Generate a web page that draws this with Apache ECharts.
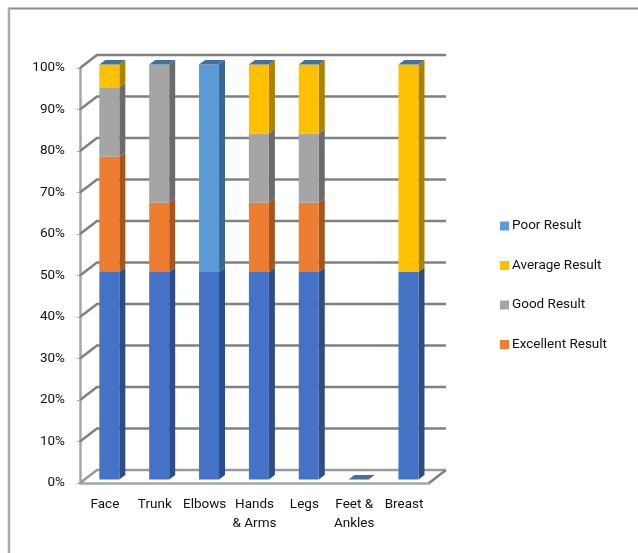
<!DOCTYPE html>
<html>
<head>
<meta charset="utf-8">
<style>html,body{margin:0;padding:0;background:#fff}#chart{width:638px;height:553px}</style>
<script src="https://cdn.jsdelivr.net/npm/echarts@6/dist/echarts.min.js"></script>
</head>
<body>
<div id="chart"></div>
<script>
// Outcome shares by treatment area, stacked to 100%.
const categories = ['Face', 'Trunk', 'Elbows', 'Hands\n& Arms', 'Legs', 'Feet &\nAnkles', 'Breast'];
const baseShare = [50, 50, 50, 50, 50, 0, 50];
const excellent = [27.8, 16.7, 0, 16.7, 16.7, 0, 0];
const good = [16.7, 33.3, 0, 16.7, 16.7, 0, 0];
const average = [5.5, 0, 0, 16.6, 16.6, 0, 50];
const poor = [0, 0, 50, 0, 0, 0, 0];
const yTicks = [0, 10, 20, 30, 40, 50, 60, 70, 80, 90, 100];

const FONT = 'Roboto, "Liberation Sans", Arial, sans-serif';
const FONT_SIZE = 13.5;
const TEXT = '#111111';
// Oblique projection used for the box walls and the bar prisms.
const WALL = { dx: 17, dy: -13 };
const BAR = { shiftX: 4.4, shiftY: -3.5, width: 20, dx: 6, dy: -4.5 };
const CAP = '#41719c';

const stackDefs = [
  { name: 'Base Share', values: baseShare, front: '#4472c4', side: '#2c4d85' },
  { name: 'Excellent Result', values: excellent, front: '#ed7d31', side: '#a5561f' },
  { name: 'Good Result', values: good, front: '#a5a5a5', side: '#6b6b6b' },
  { name: 'Average Result', values: average, front: '#ffc000', side: '#ab8100' },
  { name: 'Poor Result', values: poor, front: '#5b9bd5', side: '#3a668f' }
];

const running = categories.map(() => 0);

function prism(def, withCap) {
  return function (params, api) {
    const cx = api.coord([api.value(0), 0])[0] + BAR.shiftX;
    const yLow = api.coord([0, api.value(1)])[1] + BAR.shiftY;
    const yHigh = api.coord([0, api.value(2)])[1] + BAR.shiftY;
    const l = cx - BAR.width / 2, r = cx + BAR.width / 2;
    const children = [];
    if (yLow - yHigh > 0.01) {
      children.push({
        type: 'polygon',
        shape: { points: [[r, yHigh], [r + BAR.dx, yHigh + BAR.dy], [r + BAR.dx, yLow + BAR.dy], [r, yLow]] },
        style: { fill: def.side }
      });
      children.push({
        type: 'rect',
        shape: { x: l, y: yHigh, width: BAR.width, height: yLow - yHigh },
        style: { fill: def.front }
      });
    }
    if (withCap) {
      children.push({
        type: 'polygon',
        shape: { points: [[l, yHigh], [l + BAR.dx, yHigh + BAR.dy], [r + BAR.dx, yHigh + BAR.dy], [r, yHigh]] },
        style: { fill: CAP }
      });
    }
    return { type: 'group', children };
  };
}

const barSeries = stackDefs.map((def, s) => ({
  name: def.name,
  type: 'custom',
  coordinateSystem: 'cartesian2d',
  clip: false,
  z: 5 + s,
  itemStyle: { color: def.front },
  encode: { x: 0, y: [1, 2] },
  data: def.values.map((v, i) => {
    const start = running[i];
    running[i] += v;
    return [i, start, running[i]];
  }),
  renderItem: prism(def, s === stackDefs.length - 1)
}));

// Back wall rules, wall diagonals and the floor of the box.
const wallSeries = {
  type: 'custom',
  coordinateSystem: 'cartesian2d',
  clip: false,
  silent: true,
  z: 1,
  encode: { y: 0 },
  data: yTicks.map(t => [t]),
  renderItem: function (params, api) {
    const g = params.coordSys;
    const y = api.coord([0, api.value(0)])[1];
    const right = g.x + g.width;
    const isFloor = api.value(0) === 0;
    const stroke = isFloor ? '#9a9a9a' : '#808080';
    const children = [{
      type: 'polyline',
      shape: { points: [[g.x, y], [g.x + WALL.dx, y + WALL.dy], [right + WALL.dx, y + WALL.dy]] },
      style: { stroke, lineWidth: 2.5, fill: 'none' }
    }];
    if (isFloor) {
      children.push({
        type: 'line',
        shape: { x1: right, y1: y, x2: right + WALL.dx, y2: y + WALL.dy },
        style: { stroke: '#808080', lineWidth: 2.5 }
      });
    }
    return { type: 'group', children };
  }
};

const chart = echarts.init(document.getElementById('chart'), null, { renderer: 'canvas' });
chart.setOption({
  animation: false,
  backgroundColor: '#ffffff',
  graphic: [
    { type: 'line', z: 0, shape: { x1: 8, y1: 8.5, x2: 638, y2: 8.5 }, style: { stroke: '#8c8c8c', lineWidth: 2 } },
    { type: 'line', z: 0, shape: { x1: 9, y1: 8, x2: 9, y2: 553 }, style: { stroke: '#ababab', lineWidth: 2.5 } }
  ],
  grid: { left: 80, top: 68, width: 349, height: 415 },
  legend: {
    orient: 'vertical',
    left: 500,
    top: 218,
    padding: 0,
    itemWidth: 9,
    itemHeight: 9,
    itemGap: 23.5,
    selectedMode: false,
    textStyle: { fontFamily: FONT, fontSize: FONT_SIZE, color: TEXT, padding: [0, 0, 0, -2], lineHeight: 16 },
    data: ['Poor Result', 'Average Result', 'Good Result', 'Excellent Result'].map(name => ({ name, icon: 'rect' }))
  },
  xAxis: {
    type: 'category',
    data: categories,
    axisLine: { lineStyle: { color: '#a6a6a6', width: 2.5 } },
    axisTick: { length: 5, lineStyle: { color: '#a6a6a6', width: 1 } },
    axisLabel: { fontFamily: FONT, fontSize: FONT_SIZE, color: TEXT, margin: 12, lineHeight: 19, interval: 0 },
    splitLine: { show: false }
  },
  yAxis: {
    type: 'value',
    min: 0,
    max: 100,
    interval: 10,
    axisLine: { show: true, lineStyle: { color: '#a6a6a6', width: 2.5 } },
    axisTick: { show: true, length: 3, lineStyle: { color: '#a6a6a6', width: 1 } },
    axisLabel: { formatter: '{value}%', fontFamily: FONT, fontSize: FONT_SIZE, color: TEXT, margin: 15, verticalAlign: 'middle', lineHeight: 20, padding: [6, 0, 0, 0] },
    splitLine: { show: false }
  },
  series: [wallSeries].concat(barSeries)
});
</script>
</body>
</html>
